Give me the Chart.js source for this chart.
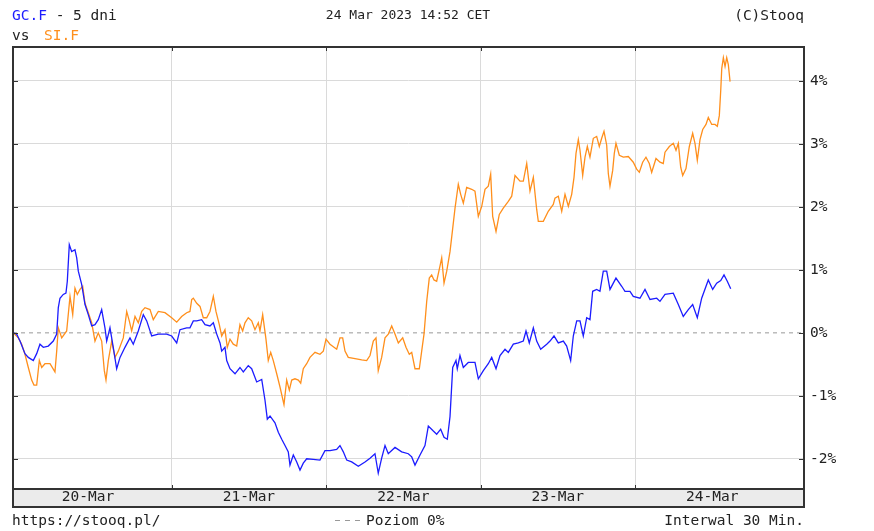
<!DOCTYPE html>
<html>
<head>
<meta charset="utf-8">
<script src="https://cdn.jsdelivr.net/npm/chart.js@4/dist/chart.umd.min.js"></script>
<style>
html,body{margin:0;padding:0;background:#fff}
#c{display:block}
</style>
</head>
<body>
<canvas id="c" width="874" height="531"></canvas>
<script>
// hours since 20-Mar 00:00 CET, % change from start
const gcHours = [-0.62,-0.09,0.43,1.2,1.72,2.49,3.02,3.53,4.05,4.82,
  5.6,6.13,6.38,6.64,7.15,7.57,7.78,8.09,8.46,8.97,
  9.24,9.49,10.01,10.53,11.04,11.57,12.08,12.59,13.12,13.63,
  13.9,14.41,14.92,15.45,15.97,16.74,17.52,18.03,18.81,19.59,
  20.12,20.89,21.92,23.22,24,24.78,25.29,26.33,26.84,27.36,
  27.89,28.66,29.18,29.95,30.47,31,31.51,31.77,32.28,32.55,
  33.06,33.84,34.61,35.13,35.9,36.43,37.21,37.99,38.5,38.86,
  39.28,40.05,40.57,41.1,41.61,42.12,42.38,42.9,43.43,43.94,
  44.45,44.98,46,47.04,47.82,48.6,49.64,50.15,50.67,51.2,
  51.97,53,54.04,54.82,55.59,56.1,56.63,57.15,57.66,58.7,
  59.74,60.77,61.3,61.81,62.59,63.36,63.88,64.66,65.18,65.8,
  66.32,66.83,67.25,67.67,68.18,68.38,68.8,69.32,70.09,71.13,
  71.65,72.43,73.2,73.73,74.4,75.02,75.8,76.31,77.09,77.87,
  78.64,79.06,79.57,80.2,80.72,81.34,82.28,82.79,83.41,84.08,
  84.86,85.38,86,86.41,86.94,87.45,87.96,88.49,89,89.42,
  90.04,90.55,91.07,91.6,92.11,93.04,93.93,94.44,95.22,95.73,
  96.77,97.55,98.33,99.37,99.88,100.66,101.95,102.73,103.5,104.28,
  104.96,105.68,106.36,107.39,108.07,108.69,109.32,109.83,110.34,110.87];
const gcPct = [0,-0.02,-0.13,-0.33,-0.39,-0.44,-0.33,-0.18,-0.23,-0.21,
  -0.13,-0.02,0.40,0.55,0.61,0.63,0.82,1.40,1.29,1.32,
  1.19,0.98,0.77,0.45,0.29,0.11,0.13,0.21,0.37,0.08,
  -0.13,0.08,-0.23,-0.57,-0.39,-0.23,-0.08,-0.18,0.03,0.29,
  0.19,-0.05,-0.02,-0.02,-0.05,-0.16,0.05,0.08,0.08,0.19,
  0.19,0.21,0.13,0.11,0.16,-0.02,-0.16,-0.29,-0.23,-0.44,
  -0.57,-0.65,-0.55,-0.62,-0.52,-0.57,-0.78,-0.74,-1.07,-1.37,
  -1.32,-1.43,-1.58,-1.69,-1.79,-1.89,-2.10,-1.94,-2.05,-2.18,
  -2.07,-2.00,-2.01,-2.02,-1.87,-1.87,-1.85,-1.79,-1.89,-2.02,
  -2.05,-2.12,-2.05,-1.99,-1.92,-2.23,-1.99,-1.79,-1.92,-1.82,
  -1.89,-1.92,-1.97,-2.10,-1.94,-1.79,-1.48,-1.56,-1.61,-1.53,
  -1.66,-1.69,-1.33,-0.55,-0.44,-0.57,-0.36,-0.55,-0.47,-0.47,
  -0.73,-0.60,-0.49,-0.39,-0.57,-0.36,-0.26,-0.31,-0.18,-0.16,
  -0.13,0.03,-0.16,0.08,-0.13,-0.26,-0.18,-0.13,-0.05,-0.16,
  -0.13,-0.21,-0.44,-0.05,0.19,0.19,-0.05,0.24,0.21,0.66,
  0.69,0.66,0.98,0.98,0.69,0.87,0.74,0.66,0.66,0.58,
  0.55,0.69,0.53,0.55,0.50,0.61,0.63,0.45,0.26,0.37,
  0.45,0.24,0.55,0.84,0.69,0.79,0.83,0.92,0.82,0.70];

const siHours = [-0.62,0.16,0.69,1.2,1.72,2.24,2.6,3.02,3.43,3.8,
  4.31,5.09,5.86,6.13,6.38,6.91,7.68,8.2,8.62,8.97,
  9.33,9.75,10.17,10.53,11.04,11.57,12.08,12.59,13.12,13.53,
  13.79,14.15,14.68,15.19,15.7,16.48,17.01,17.41,17.78,18.3,
  18.81,19.34,19.85,20.63,21.14,21.92,22.96,24,24.78,25.55,
  26.33,26.84,27.11,27.36,27.89,28.4,28.91,29.44,29.95,30.47,
  30.88,31.4,31.77,32.28,32.64,33.06,33.57,34.1,34.61,35.03,
  35.39,35.9,36.43,36.94,37.46,37.72,38.14,38.65,39.01,39.39,
  39.79,40.32,40.83,41.45,41.87,42.28,42.65,43.16,43.68,44.05,
  44.45,44.98,45.49,46.27,47.04,47.56,47.98,48.6,49.64,50.15,
  50.57,50.93,51.44,52.49,53.53,54.3,54.82,55.33,55.75,56.1,
  56.63,57.15,57.66,58.19,58.7,59.22,59.9,60.41,60.92,61.3,
  61.81,62.48,62.85,63.21,63.63,64.03,64.4,64.76,65.18,65.69,
  65.96,66.32,66.74,67.25,67.67,68.03,68.54,68.91,69.32,69.84,
  70.62,71.13,71.65,72.18,72.69,73.2,73.57,73.88,74.4,74.91,
  75.53,76.31,76.84,77.35,78.13,78.64,79.17,79.68,80.2,80.72,
  80.97,81.75,82.52,83.3,83.56,84.08,84.61,85.12,85.64,86.16,
  86.52,86.83,87.19,87.45,87.87,88.23,88.59,89,89.52,90.04,
  90.45,90.82,91.18,91.6,91.85,92.11,92.53,92.78,93.04,93.56,
  94.18,94.96,95.73,96.26,96.67,97.19,97.7,98.22,98.59,99.26,
  99.88,100.39,100.66,101.33,101.95,102.37,102.73,103.1,103.41,103.92,
  104.44,104.96,105.32,105.68,106.1,106.52,107.03,107.39,107.92,108.43,
  108.79,109.1,109.32,109.48,109.73,109.99,110.25,110.5,110.77,110.87];
const siPct = [0,-0.08,-0.18,-0.34,-0.55,-0.75,-0.83,-0.83,-0.44,-0.55,
  -0.49,-0.49,-0.62,-0.29,0.08,-0.08,0.03,0.58,0.29,0.71,
  0.61,0.69,0.74,0.47,0.32,0.16,-0.13,0.00,-0.13,-0.60,
  -0.75,-0.44,-0.13,-0.39,-0.29,-0.08,0.34,0.19,0.03,0.26,
  0.16,0.34,0.40,0.37,0.21,0.34,0.32,0.24,0.17,0.26,
  0.32,0.34,0.53,0.55,0.47,0.42,0.24,0.24,0.34,0.58,
  0.34,0.13,-0.05,0.05,-0.23,-0.10,-0.18,-0.21,0.13,0.03,
  0.16,0.24,0.19,0.05,0.16,0.03,0.29,-0.10,-0.44,-0.31,
  -0.44,-0.65,-0.86,-1.14,-0.75,-0.91,-0.75,-0.73,-0.75,-0.80,
  -0.57,-0.49,-0.39,-0.31,-0.34,-0.29,-0.10,-0.18,-0.26,-0.08,
  -0.08,-0.29,-0.39,-0.41,-0.43,-0.44,-0.36,-0.13,-0.08,-0.60,
  -0.39,-0.08,-0.02,0.11,-0.02,-0.16,-0.08,-0.23,-0.34,-0.31,
  -0.57,-0.57,-0.29,-0.02,0.50,0.87,0.92,0.84,0.82,1.06,
  1.19,0.79,0.98,1.29,1.66,1.98,2.36,2.20,2.06,2.31,
  2.28,2.25,1.85,2.01,2.28,2.33,2.52,1.85,1.61,1.88,
  1.98,2.09,2.17,2.50,2.41,2.41,2.69,2.25,2.47,1.96,
  1.77,1.77,1.93,2.04,2.14,2.17,1.93,2.20,2.01,2.20,
  2.47,2.85,3.07,2.90,2.50,2.79,2.96,2.79,3.09,3.12,
  2.96,3.09,3.20,2.98,2.53,2.33,2.58,2.85,3.01,2.82,
  2.79,2.80,2.71,2.60,2.55,2.71,2.79,2.69,2.55,2.77,
  2.71,2.69,2.87,2.96,3.01,2.90,3.01,2.63,2.50,2.61,
  2.96,3.17,3.01,2.74,3.07,3.23,3.31,3.42,3.31,3.31,
  3.28,3.45,3.85,4.20,4.37,4.23,4.37,4.26,3.99,3.99];

const yTicks = [-2,-1,0,1,2,3,4];
const dayLines = [24,48,72,96];
const dayLabels = ['20-Mar','21-Mar','22-Mar','23-Mar','24-Mar'];
const dayLabelAt = [11,36,60,84,108];

const X_MIN = -0.66, X_MAX = 122.26;
const Y_MIN = -2.48, Y_MAX = 4.54;

const BLUE = '#1c1cff', ORANGE = '#ff8f1c', INK = '#222', GRID = '#dadada';
const FONT = '"DejaVu Sans Mono", monospace';

Chart.defaults.font.family = FONT;
Chart.defaults.font.size = 14.5;
Chart.defaults.color = INK;

const pts = (xs, ys) => xs.map((x, i) => ({x, y: ys[i]}));

// frame, band, inner ticks, header and footer texts
const decor = {
  id: 'decor',
  beforeDraw(chart){
    const {ctx, chartArea:a, scales:{xl}} = chart;
    ctx.save();
    ctx.fillStyle = '#ebebeb';
    ctx.fillRect(a.left, xl.top, a.right - a.left, xl.bottom - xl.top);
    ctx.restore();
  },
  afterDraw(chart){
    const {ctx, chartArea:a, scales:{x, y, xl}} = chart;
    ctx.save();
    ctx.strokeStyle = '#333'; ctx.lineWidth = 1;
    ctx.beginPath();
    yTicks.forEach(v => {
      const py = Math.round(y.getPixelForValue(v)) + 0.5;
      ctx.moveTo(a.left, py); ctx.lineTo(a.left + 5, py);
      ctx.moveTo(a.right - 5, py); ctx.lineTo(a.right, py);
    });
    dayLines.forEach(h => {
      const px = Math.round(x.getPixelForValue(h)) + 0.5;
      ctx.moveTo(px, a.top); ctx.lineTo(px, a.top + 4);
      ctx.moveTo(px, a.bottom - 4); ctx.lineTo(px, a.bottom);
    });
    ctx.stroke();

    ctx.lineWidth = 2;
    ctx.strokeRect(a.left, a.top, a.right - a.left, xl.bottom - a.top);
    ctx.beginPath(); ctx.moveTo(a.left, a.bottom); ctx.lineTo(a.right, a.bottom); ctx.stroke();

    ctx.font = '14.5px ' + FONT;
    ctx.textBaseline = 'alphabetic';
    ctx.textAlign = 'left';
    ctx.fillStyle = BLUE; ctx.fillText('GC.F', 12, 20);
    const w = ctx.measureText('GC.F').width;
    ctx.fillStyle = INK; ctx.fillText(' - 5 dni', 12 + w, 20);
    ctx.fillText('vs', 12, 40);
    ctx.fillStyle = ORANGE; ctx.fillText('SI.F', 44, 40);
    ctx.fillStyle = INK;
    ctx.textAlign = 'right'; ctx.fillText('(C)Stooq', 804, 20);
    ctx.font = '13px ' + FONT;
    ctx.textAlign = 'center'; ctx.fillText('24 Mar 2023 14:52 CET', 408, 19);

    ctx.font = '14.5px ' + FONT;
    ctx.textAlign = 'left'; ctx.fillText('https://stooq.pl/', 12, 525);
    ctx.fillText('Poziom 0%', 366, 525);
    ctx.textAlign = 'right'; ctx.fillText('Interwal 30 Min.', 804, 525);

    ctx.strokeStyle = '#999'; ctx.lineWidth = 1; ctx.setLineDash([5,5]);
    ctx.beginPath(); ctx.moveTo(335, 520.5); ctx.lineTo(362, 520.5); ctx.stroke();
    ctx.restore();
  }
};

new Chart(document.getElementById('c'), {
  type: 'line',
  data: {
    datasets: [
      {label:'GC.F', data: pts(gcHours, gcPct), borderColor: BLUE, borderWidth: 1.3, pointRadius: 0, tension: 0, order: 0},
      {label:'SI.F', data: pts(siHours, siPct), borderColor: ORANGE, borderWidth: 1.3, pointRadius: 0, tension: 0, order: 1},
      {label:'Poziom 0%', data: [{x: X_MIN, y: 0}, {x: X_MAX, y: 0}], borderColor: '#999', borderWidth: 1, borderDash: [4,4], pointRadius: 0, order: 2}
    ]
  },
  options: {
    responsive: false, animation: false, devicePixelRatio: 1,
    layout: {padding: {left: 13, top: 47, right: 0, bottom: 24}},
    plugins: {legend: {display: false}, tooltip: {enabled: false}},
    scales: {
      x: {
        type: 'linear', min: X_MIN, max: X_MAX,
        afterBuildTicks: s => { s.ticks = dayLines.map(v => ({value: v})); },
        afterFit: s => { s.height = 0; },
        ticks: {display: false},
        grid: {color: GRID, drawTicks: false},
        border: {display: false}
      },
      xl: {
        type: 'linear', position: 'bottom', min: X_MIN, max: X_MAX,
        afterBuildTicks: s => { s.ticks = dayLabelAt.map(v => ({value: v})); },
        afterFit: s => { s.height = 18; },
        ticks: {autoSkip: false, maxRotation: 0, padding: 0, color: INK, callback: (v, i) => dayLabels[i]},
        grid: {display: false, drawTicks: false},
        border: {display: false}
      },
      y: {
        type: 'linear', position: 'right', min: Y_MIN, max: Y_MAX,
        afterBuildTicks: s => { s.ticks = yTicks.map(v => ({value: v})); },
        afterFit: s => { s.width = 70; },
        ticks: {padding: 6, color: INK, callback: v => v + '%'},
        grid: {color: c => (c.tick && c.tick.value === 0) ? 'rgba(0,0,0,0)' : GRID, drawTicks: false},
        border: {display: false}
      }
    }
  },
  plugins: [decor]
});
</script>
</body>
</html>
